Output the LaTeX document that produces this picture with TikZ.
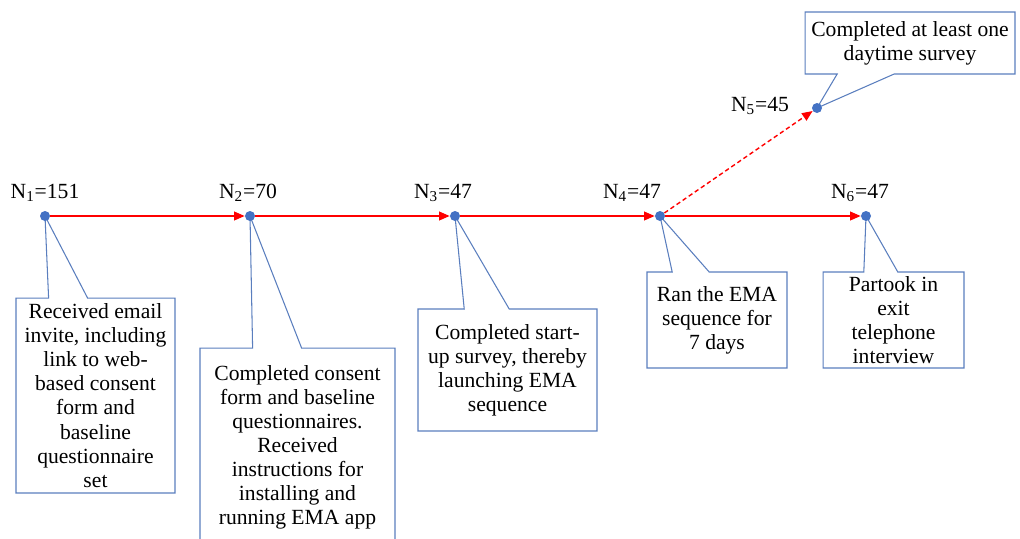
\documentclass[tikz,border=0pt]{standalone}
\usepackage{fontspec}
\setmainfont{Liberation Serif}
\usepackage{tikz}
\usetikzlibrary{shapes.callouts,arrows.meta,backgrounds}
\definecolor{dotblue}{HTML}{4472C4}
\definecolor{boxblue}{HTML}{5A7EBE}

\begin{document}
\begin{tikzpicture}[x=0.02cm,y=-0.02cm,
            font=\fontsize{12.3}{13.7}\selectfont]
            \tikzstyle{stage}=[circle,fill=dotblue,inner sep=0pt,minimum size=0.2cm]
            \tikzstyle{tally}=[inner sep=0pt]
            \tikzstyle{note}=[rectangle callout,draw=boxblue,line width=0.6pt,fill=white,align=center,inner sep=2pt]
            \tikzstyle{flow}=[red,line width=0.8pt,-{Triangle[length=6pt,width=5pt]}]
            \useasboundingbox (0,0) rectangle (1020,538);
            % stages on the time line
            \node[stage] (n1) at (45,216) {};
            \node[stage] (n2) at (250,216) {};
            \node[stage] (n3) at (455,216) {};
            \node[stage] (n4) at (660,216) {};
            \node[stage] (n5) at (817,108) {};
            \node[stage] (n6) at (866,216) {};
            % sample sizes
            \node[tally] (c1) at (45,193) {N\textsubscript{1}=151};
            \node[tally] (c2) at (248,193) {N\textsubscript{2}=70};
            \node[tally] (c3) at (443,193) {N\textsubscript{3}=47};
            \node[tally] (c4) at (632,193) {N\textsubscript{4}=47};
            \node[tally] (c5) at (760,106) {N\textsubscript{5}=45};
            \node[tally] (c6) at (860,193) {N\textsubscript{6}=47};
            % flow between stages
            \draw[flow] (n1) -- (n2);
            \draw[flow] (n2) -- (n3);
            \draw[flow] (n3) -- (n4);
            \draw[flow] (n4) -- (n6);
            \draw[flow,dash pattern=on 2.5pt off 1.7pt] (n4) -- (n5);
            % descriptions
            \begin{scope}[on background layer]
            \node[note,minimum width=3.18cm,minimum height=3.9cm,
                callout absolute pointer=(n1.center),callout pointer width=0.78cm] (d1) at (95.5,395.5)
                {Received email\\invite, including\\link to web-\\based consent\\form and\\baseline\\questionnaire\\set};
            \node[note,minimum width=3.9cm,minimum height=3.98cm,
                callout absolute pointer=(n2.center),callout pointer width=0.98cm] (d2) at (297.5,447.5)
                {Completed consent\\form and baseline\\questionnaires.\\Received\\instructions for\\installing and\\running EMA app};
            \node[note,minimum width=3.58cm,minimum height=2.44cm,
                callout absolute pointer=(n3.center),callout pointer width=0.9cm] (d3) at (507.5,370)
                {Completed start-\\up survey, thereby\\launching EMA\\sequence};
            \node[note,minimum width=2.8cm,minimum height=1.92cm,
                callout absolute pointer=(n4.center),callout pointer width=0.74cm] (d4) at (717,320)
                {Ran the EMA\\sequence for\\7 days};
            \node[note,minimum width=2.82cm,minimum height=1.92cm,
                callout absolute pointer=(n6.center),callout pointer width=0.68cm] (d6) at (893.5,320)
                {Partook in\\exit\\telephone\\interview};
            \node[note,minimum width=4.2cm,minimum height=1.24cm,
                callout absolute pointer=(n5.center),callout pointer width=1.14cm] (d5) at (910,43)
                {Completed at least one\\daytime survey};
            \end{scope}
\end{tikzpicture}
\end{document}
